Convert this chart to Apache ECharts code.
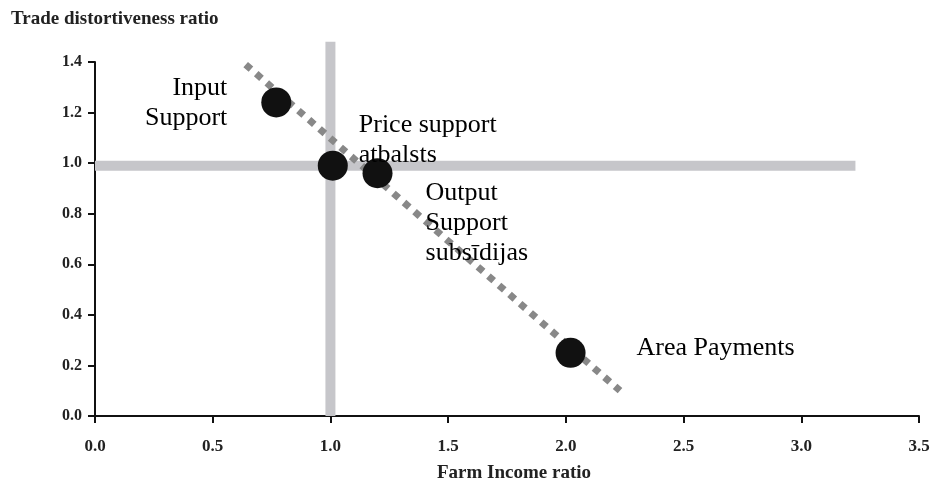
<!DOCTYPE html>
<html>
<head>
<meta charset="utf-8">
<script src="https://cdn.jsdelivr.net/npm/echarts@6/dist/echarts.min.js"></script>
<style>html,body{margin:0;padding:0;background:#fff;}#c{width:933px;height:484px;}</style>
</head>
<body>
<div id="c"></div>
<script>
// Data
const pointNames = ['Input\nSupport', 'Price support\natbalsts', 'Output\nSupport\nsubsīdijas', 'Area Payments'];
const pointX = [0.77, 1.01, 1.20, 2.02];
const pointY = [1.24, 0.99, 0.96, 0.25];
const trendX = [0.64, 2.23];
const trendY = [1.39, 0.10];
const refVerticalX = [1.0, 1.0];
const refVerticalY = [0.0, 1.48];
const refHorizontalX = [0.0, 3.23];
const refHorizontalY = [0.99, 0.99];
const xTicks = ['0.0', '0.5', '1.0', '1.5', '2.0', '2.5', '3.0', '3.5'];
const yTicks = ['0.0', '0.2', '0.4', '0.6', '0.8', '1.0', '1.2', '1.4'];
const yTitle = 'Trade distortiveness ratio';
const xTitle = 'Farm Income ratio';

const serif = "'Liberation Serif', 'Times New Roman', serif";
const zip = (a, b) => a.map((v, i) => [v, b[i]]);

// Label placement per point (styling)
const labelStyles = [
  { position: 'left', distance: 34, align: 'right', offset: [0, 1] },
  { position: 'right', distance: 11, align: 'left', offset: [0, -25] },
  { position: 'right', distance: 33, align: 'left', offset: [0, 50] },
  { position: 'right', distance: 51, align: 'left', offset: [0, -5] }
];

const chart = echarts.init(document.getElementById('c'), null, { renderer: 'canvas' });
chart.setOption({
  backgroundColor: '#ffffff',
  animation: false,
  title: [
    { text: yTitle, left: 11, top: 10, padding: 0,
      textStyle: { fontFamily: serif, fontWeight: 'bold', fontSize: 19, color: '#222' } },
    { text: xTitle, left: 437, top: 464, padding: 0,
      textStyle: { fontFamily: serif, fontWeight: 'bold', fontSize: 19, color: '#222' } }
  ],
  grid: { left: 95, right: 14, top: 62, bottom: 68, containLabel: false },
  xAxis: {
    type: 'value', min: 0, max: 3.5, interval: 0.5,
    splitLine: { show: false },
    axisLine: { lineStyle: { color: '#111', width: 2 } },
    axisTick: { show: true, length: 7, lineStyle: { color: '#111', width: 2 } },
    axisLabel: { margin: 22, fontFamily: serif, fontWeight: 'bold', fontSize: 17, color: '#222',
      formatter: (v) => xTicks[Math.round(v / 0.5)] }
  },
  yAxis: {
    type: 'value', min: 0, max: 1.4, interval: 0.2,
    splitLine: { show: false },
    axisLine: { show: true, lineStyle: { color: '#111', width: 2 } },
    axisTick: { show: true, length: 7, lineStyle: { color: '#111', width: 2 } },
    axisLabel: { margin: 13, fontFamily: serif, fontWeight: 'bold', fontSize: 16, color: '#222',
      formatter: (v) => yTicks[Math.round(v / 0.2)] }
  },
  series: [
    {
      type: 'line', data: zip(refVerticalX, refVerticalY), clip: false, symbol: 'none', z: 1,
      lineStyle: { color: '#c6c6ca', width: 10, cap: 'butt' }, silent: true
    },
    {
      type: 'line', data: zip(refHorizontalX, refHorizontalY), clip: false, symbol: 'none', z: 1,
      lineStyle: { color: '#c6c6ca', width: 10, cap: 'butt' }, silent: true
    },
    {
      type: 'line', data: zip(trendX, trendY), clip: false, symbol: 'none', z: 2,
      lineStyle: { color: '#888888', width: 7, type: [7, 7], cap: 'butt' }, silent: true
    },
    {
      type: 'scatter', z: 3, symbol: 'circle', symbolSize: 30,
      itemStyle: { color: '#111111', opacity: 1 },
      data: pointX.map((x, i) => ({
        value: [x, pointY[i]],
        name: pointNames[i],
        label: Object.assign({
          show: true, formatter: pointNames[i],
          fontFamily: serif, fontSize: 26, lineHeight: 30, color: '#000'
        }, labelStyles[i])
      }))
    }
  ]
});
</script>
</body>
</html>
